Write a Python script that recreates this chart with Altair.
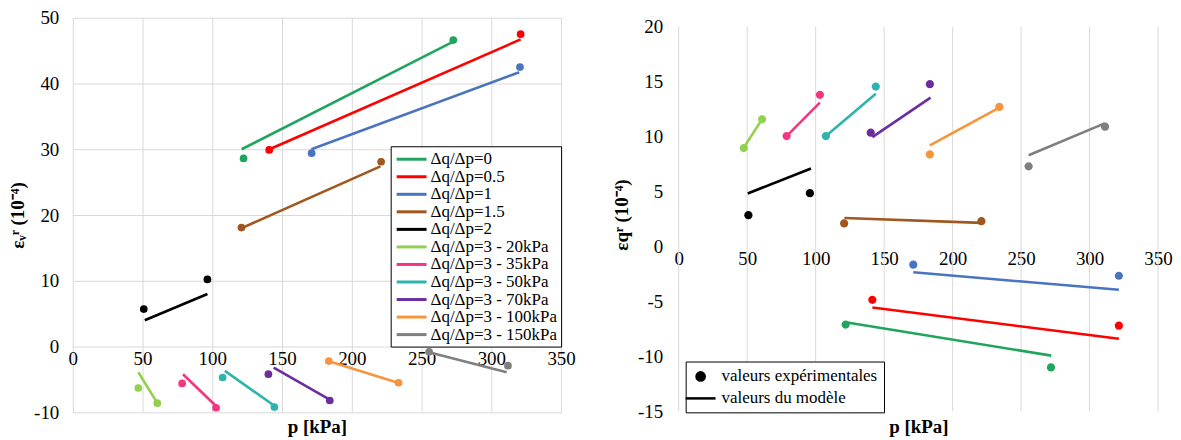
import altair as alt
import pandas as pd

FONT = "Liberation Serif"

SERIES = ["Δq/Δp=0", "Δq/Δp=0.5", "Δq/Δp=1", "Δq/Δp=1.5", "Δq/Δp=2",
          "Δq/Δp=3 - 20kPa", "Δq/Δp=3 - 35kPa", "Δq/Δp=3 - 50kPa",
          "Δq/Δp=3 - 70kPa", "Δq/Δp=3 - 100kPa", "Δq/Δp=3 - 150kPa"]
COLORS = ["#1FA55E", "#FF0000", "#4A74C0", "#A0561E", "#000000",
          "#92D050", "#F5357F", "#2FB3AD", "#6A2E9E", "#F7943E", "#7F7F7F"]

# Left panel: volumetric strain (experimental points and model lines)
L_EXP_P = [[122.4, 272.7], [140.8, 321.0], [171.2, 320.5], [120.9, 221.0], [50.9, 96.5],
           [47.0, 60.6], [78.4, 102.7], [107.4, 144.5], [140.2, 184.2], [183.5, 233.5], [255.4, 311.9]]
L_EXP_E = [[28.6, 46.6], [29.9, 47.5], [29.4, 42.5], [18.1, 28.1], [5.7, 10.2],
           [-6.3, -8.6], [-5.6, -9.3], [-4.7, -9.2], [-4.2, -8.2], [-2.2, -5.5], [-0.8, -2.9]]
L_MOD_P = [[121.0, 272.0], [141.0, 321.0], [171.0, 320.0], [121.0, 220.5], [51.6, 96.5],
           [47.0, 60.6], [79.0, 102.5], [109.0, 144.5], [144.0, 183.5], [183.0, 233.0], [256.0, 311.0]]
L_MOD_E = [[30.0, 46.3], [30.0, 46.7], [30.0, 41.7], [18.0, 27.4], [4.0, 8.0],
           [-3.9, -8.6], [-4.2, -9.0], [-3.7, -9.0], [-3.2, -8.0], [-2.2, -5.5], [-0.9, -3.9]]

# Right panel: deviatoric strain
R_EXP_P = [[121.9, 271.8], [141.4, 321.4], [171.3, 321.4], [120.8, 221.0], [50.9, 95.8],
           [47.5, 60.9], [78.8, 103.1], [107.5, 143.9], [140.2, 183.4], [183.4, 234.1], [255.5, 311.3]]
R_EXP_E = [[-7.1, -11.0], [-4.85, -7.2], [-1.65, -2.66], [2.1, 2.3], [2.85, 4.85],
           [8.96, 11.58], [10.05, 13.8], [10.05, 14.55], [10.36, 14.77], [8.38, 12.7], [7.3, 10.9]]
R_MOD_P = [[121.9, 272.0], [141.4, 321.4], [171.3, 321.4], [121.0, 221.0], [50.4, 96.6],
           [47.5, 61.0], [78.8, 103.1], [107.5, 143.9], [141.4, 183.9], [183.4, 234.1], [255.5, 311.0]]
R_MOD_E = [[-6.9, -9.93], [-5.55, -8.4], [-2.35, -3.93], [2.6, 2.15], [4.83, 7.1],
           [9.0, 11.6], [10.05, 13.1], [10.05, 13.9], [9.95, 13.55], [9.2, 12.64], [8.3, 11.2]]

KINDS = ["valeurs expérimentales", "valeurs du modèle"]
X_TICKS = [0, 50, 100, 150, 200, 250, 300, 350]


def frames(exp_p, exp_e, mod_p, mod_e):
    pts, lines = [], []
    for i, s in enumerate(SERIES):
        for j in range(2):
            pts.append({"serie": s, "p": exp_p[i][j], "e": exp_e[i][j], "kind": KINDS[0]})
            lines.append({"serie": s, "p": mod_p[i][j], "e": mod_e[i][j]})
    return pd.DataFrame(pts), pd.DataFrame(lines)


lp, lm = frames(L_EXP_P, L_EXP_E, L_MOD_P, L_MOD_E)
rp, rm = frames(R_EXP_P, R_EXP_E, R_MOD_P, R_MOD_E)

color_scale = alt.Scale(domain=SERIES, range=COLORS)
MINUS = "replace(datum.label, '\u2212', '-')"

# ---------------- left panel ----------------
W1, H1 = 490, 396
x1 = alt.X("p:Q", scale=alt.Scale(domain=[0, 350], nice=False),
           axis=alt.Axis(values=X_TICKS, offset=-H1 / 6, title="p [kPa]",
                         titleY=H1 / 6 + 5, titleFontWeight="bold", labelFlush=False, labelPadding=3))
y1 = alt.Y("e:Q", scale=alt.Scale(domain=[-10, 50], nice=False),
           axis=alt.Axis(values=list(range(-10, 51, 10)), title="εᵥʳ (10⁻⁴)", titleFontWeight="bold",
                         labelPadding=14, titlePadding=6, labelFlush=False, labelExpr=MINUS))

leg1 = alt.Legend(title=None, orient="none", legendX=319, legendY=129,
                  symbolType="M-2,0L2,0", symbolSize=225, symbolStrokeWidth=3, symbolOffset=8,
                  labelFont=FONT, labelFontSize=17, labelColor="black", labelOffset=10,
                  labelLimit=400, strokeColor="black", fillColor="white", padding=4, rowPadding=0.6)

lines1 = alt.Chart(lm).mark_line(strokeWidth=2.6).encode(
    x=x1, y=y1, color=alt.Color("serie:N", scale=color_scale, legend=leg1, sort=SERIES), detail="serie:N")
pts1 = alt.Chart(lp).mark_circle(size=60, opacity=1).encode(
    x=x1, y=y1, color=alt.Color("serie:N", scale=color_scale, sort=SERIES))
left = alt.layer(lines1, pts1).properties(width=W1, height=H1)

# ---------------- right panel ----------------
W2, H2 = 481, 395
Y2_TOP = 20.82  # small headroom above the 20 gridline (plot sits lower in the original)
x2 = alt.X("p:Q", scale=alt.Scale(domain=[0, 350], nice=False),
           axis=alt.Axis(values=X_TICKS, offset=-H2 * 15 / (15 + Y2_TOP), title="p [kPa]", grid=False,
                         titleY=H2 * 15 / (15 + Y2_TOP) + 6, titleFontWeight="bold", labelFlush=False,
                         labelPadding=3))
y2 = alt.Y("e:Q", scale=alt.Scale(domain=[-15, Y2_TOP], nice=False),
           axis=alt.Axis(values=list(range(-15, 21, 5)), title="εqʳ (10⁻⁴)", titleFontWeight="bold",
                         labelPadding=16, titlePadding=6, labelFlush=False, labelExpr=MINUS))

CIRCLE = "M-0.55,0A0.55,0.55 0 1,0 0.55,0A0.55,0.55 0 1,0 -0.55,0Z"
DASH = "M-2,0L2,0"
shape_scale = alt.Scale(domain=KINDS, range=[CIRCLE, DASH])
leg2 = alt.Legend(title=None, orient="none", legendX=7, legendY=345, symbolSize=225,
                  symbolStrokeWidth=2.5, symbolStrokeColor="black", symbolFillColor="black",
                  labelFont=FONT, labelFontSize=17, labelColor="black", labelOffset=12,
                  strokeColor="black", fillColor="white", padding=6, rowPadding=3)

grid2 = alt.Chart(pd.DataFrame({"p": X_TICKS})).mark_rule(color="#D9D9D9", strokeWidth=1).encode(
    x=alt.X("p:Q", scale=alt.Scale(domain=[0, 350], nice=False)),
    y=alt.datum(-15), y2=alt.datum(20))
lines2 = alt.Chart(rm).mark_line(strokeWidth=2.6).encode(
    x=x2, y=y2, color=alt.Color("serie:N", scale=color_scale, legend=None), detail="serie:N")
pts2 = alt.Chart(rp).mark_point(filled=True, size=225, opacity=1).encode(
    x=x2, y=y2, color=alt.Color("serie:N", scale=color_scale, legend=None),
    shape=alt.Shape("kind:N", scale=shape_scale, legend=leg2))
right = alt.layer(grid2, lines2, pts2).properties(width=W2, height=H2)

chart = alt.hconcat(left, right, spacing=36).resolve_scale(
    color="independent", shape="independent").resolve_legend(color="independent", shape="independent")
chart = chart.properties(padding={"left": 0, "top": 0, "right": 0, "bottom": 0}).configure(
    font=FONT).configure_axis(
    labelFont=FONT, titleFont=FONT, labelFontSize=19, titleFontSize=19,
    labelColor="black", titleColor="black", gridColor="#D9D9D9", gridWidth=1,
    domain=False, ticks=False
).configure_legend(labelFont=FONT).configure_view(stroke=None)

chart.save("out.html", embed_options={"renderer": "svg", "actions": False})
